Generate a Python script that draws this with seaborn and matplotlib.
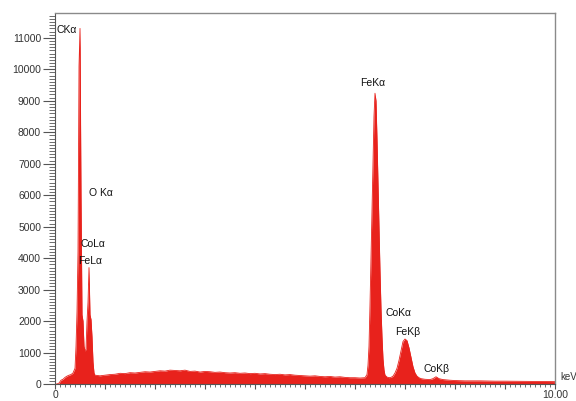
import numpy as np
import seaborn as sns
import matplotlib.pyplot as plt
from matplotlib.ticker import MultipleLocator, FixedLocator, FixedFormatter

# EDS spectrum (energy in keV, counts)
energy_kev = [
    0.00, 0.04, 0.08, 0.12, 0.16, 0.20, 0.24, 0.28, 0.32, 0.36, 0.40, 0.42,
    0.44, 0.46, 0.48, 0.50, 0.52, 0.54, 0.56, 0.58, 0.60, 0.62, 0.64, 0.66,
    0.68, 0.70, 0.72, 0.74, 0.76, 0.78, 0.80,
    0.9, 1.0, 1.1, 1.2, 1.3, 1.4, 1.5, 1.6, 1.7, 1.8, 1.9, 2.0, 2.1, 2.2,
    2.3, 2.4, 2.5, 2.6, 2.7, 2.8, 2.9, 3.0, 3.1, 3.2, 3.3, 3.4, 3.5, 3.6,
    3.7, 3.8, 3.9, 4.0, 4.1, 4.2, 4.3, 4.4, 4.5, 4.6, 4.7, 4.8, 4.9, 5.0,
    5.1, 5.2, 5.3, 5.4, 5.5, 5.6, 5.7, 5.8, 5.9, 6.0, 6.1, 6.2,
    6.24, 6.26, 6.28, 6.30, 6.32, 6.34, 6.36, 6.38, 6.40, 6.42, 6.44, 6.46,
    6.48, 6.50, 6.52, 6.54, 6.56, 6.58, 6.60, 6.64, 6.68, 6.72,
    6.76, 6.80, 6.84, 6.88, 6.92, 6.96, 7.00, 7.04, 7.08, 7.12, 7.16, 7.20,
    7.24, 7.28, 7.32,
    7.40, 7.50, 7.56, 7.62, 7.68, 7.76, 7.9, 8.0, 8.2, 8.5, 8.8, 9.0, 9.3,
    9.5, 9.8, 10.0,
]
counts = [
    0, 0, 30, 120, 150, 210, 250, 280, 300, 350, 500, 1200,
    2300, 4200, 10100, 11300, 6000, 2200, 2000, 1200, 1050, 1100, 2000, 2600,
    3700, 2200, 2050, 1500, 700, 350, 280,
    260, 280, 300, 310, 340, 330, 360, 350, 370, 390, 380, 400, 420, 410,
    440, 430, 420, 440, 400, 410, 380, 400, 390, 370, 380, 360, 350, 360,
    340, 350, 330, 340, 320, 330, 310, 300, 310, 290, 300, 280, 270, 260,
    250, 260, 240, 230, 240, 220, 230, 210, 200, 200, 190, 200,
    300, 600, 1200, 2500, 4000, 5600, 7000, 8500, 9240, 9000, 7800, 6400,
    5000, 3600, 2400, 1500, 800, 450, 280, 220, 200, 210,
    250, 350, 500, 750, 1050, 1350, 1430, 1380, 1150, 850, 550, 350,
    250, 200, 170,
    150, 140, 170, 230, 170, 140, 120, 110, 100, 100, 90, 90, 85,
    80, 80, 75,
]

peak_labels = ['CK\u03b1', 'O K\u03b1', 'CoL\u03b1', 'FeL\u03b1', 'FeK\u03b1',
               'CoK\u03b1', 'FeK\u03b2', 'CoK\u03b2']
label_x = [0.24, 0.92, 0.76, 0.70, 6.36, 6.87, 7.06, 7.64]
label_y = [11250, 6070, 4450, 3910, 9560, 2250, 1650, 470]

y_ticks = list(range(0, 12000, 1000))

sns.set_style('ticks')
plt.rcParams['font.family'] = ['Liberation Sans', 'DejaVu Sans']

red = '#e8221c'
fig = plt.figure(figsize=(5.76, 4.01), dpi=100)
ax = fig.add_axes([0.0955, 0.0424, 0.868, 0.9244])

ax.fill_between(energy_kev, counts, 0, color=red, linewidth=0)
sns.lineplot(x=energy_kev, y=counts, ax=ax, color=red, linewidth=0.6, sort=False)

ax.set_xlim(0, 10)
ax.set_ylim(0, 11780)

ax.xaxis.set_major_locator(FixedLocator(list(range(11))))
ax.xaxis.set_major_formatter(FixedFormatter(['0'] + [''] * 9 + ['10.00']))
ax.xaxis.set_minor_locator(MultipleLocator(0.1))
ax.yaxis.set_major_locator(FixedLocator(y_ticks))
ax.set_yticklabels([str(v) for v in y_ticks])
ax.yaxis.set_minor_locator(MultipleLocator(100))

ax.tick_params(axis='y', which='major', length=9, width=0.8, color='#555555',
               labelsize=7.5, labelcolor='#333333', pad=1)
ax.tick_params(axis='y', which='minor', length=4, width=0.6, color='#555555')
ax.tick_params(axis='x', which='major', length=3.5, width=0.8, color='#555555',
               labelsize=7.5, labelcolor='#333333', pad=0.5)
ax.tick_params(axis='x', which='minor', length=2.5, width=0.6, color='#555555')

for side in ['left', 'bottom']:
    ax.spines[side].set_color('#555555')
    ax.spines[side].set_linewidth(0.8)
for side in ['top', 'right']:
    ax.spines[side].set_visible(True)
    ax.spines[side].set_color('#8a8a8a')
    ax.spines[side].set_linewidth(1.0)

for txt, x, y in zip(peak_labels, label_x, label_y):
    ax.text(x, y, txt, fontsize=7.5, ha='center', va='center', color='#111111')

ax.text(1.01, 0.02, 'keV', transform=ax.transAxes, fontsize=7,
        color='#333333', ha='left', va='center', clip_on=False)

ax.set_xlabel('')
ax.set_ylabel('')
fig.savefig('out.png', dpi=100)
